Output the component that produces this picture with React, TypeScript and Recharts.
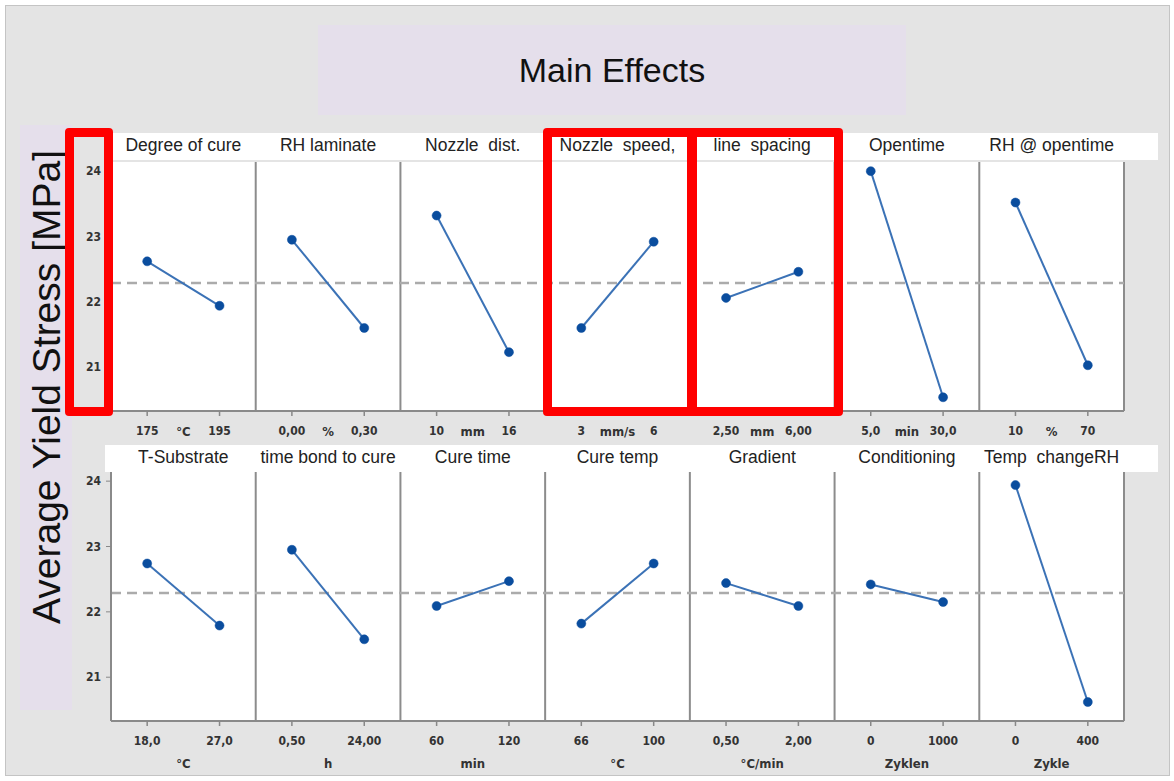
import React from "react";
import { LineChart, Line, XAxis, YAxis, ReferenceLine } from "recharts";

// top row factors
const topFactors = ["Degree of cure", "RH laminate", "Nozzle  dist.", "Nozzle  speed,", "line  spacing", "Opentime", "RH @ opentime"];
const topUnits = ["°C", "%", "mm", "mm/s", "mm", "min", "%"];
const topLowLabels = ["175", "0,00", "10", "3", "2,50", "5,0", "10"];
const topHighLabels = ["195", "0,30", "16", "6", "6,00", "30,0", "70"];
const topLowMeans = [22.62, 22.95, 23.32, 21.6, 22.06, 24.0, 23.52];
const topHighMeans = [21.94, 21.6, 21.23, 22.92, 22.46, 20.54, 21.03];

// bottom row factors
const bottomFactors = ["T-Substrate", "time bond to cure", "Cure time", "Cure temp", "Gradient", "Conditioning", "Temp  changeRH"];
const bottomUnits = ["°C", "h", "min", "°C", "°C/min", "Zyklen", "Zykle"];
const bottomLowLabels = ["18,0", "0,50", "60", "66", "0,50", "0", "0"];
const bottomHighLabels = ["27,0", "24,00", "120", "100", "2,00", "1000", "400"];
const bottomLowMeans = [22.74, 22.95, 22.09, 21.82, 22.44, 22.42, 23.94];
const bottomHighMeans = [21.79, 21.58, 22.47, 22.74, 22.09, 22.15, 20.62];

const grandMean = 22.29;
const yTicks = [21, 22, 23, 24];

const PLOT_LEFT = 111;
const PLOT_W = 1013;
const PLOT_H = 249;
const YAXIS_W = 40;
const PANEL_W = PLOT_W / 7;

const tickFont = {
  fontFamily: "'DejaVu Sans Condensed', 'DejaVu Sans', sans-serif",
  fontSize: 12,
  fontWeight: 700,
  fill: "#333",
};

const xTicks = topFactors.flatMap((_, i) => [i + 0.25, i + 0.5, i + 0.75]);

function makeTick(lows: string[], highs: string[], units: string[], unitBelow: boolean) {
  return (props: any) => {
    const { x, y, payload } = props;
    const v = payload.value as number;
    const i = Math.floor(v);
    const part = Math.round((v - i) * 4);
    if (part === 2) {
      return (
        <text x={x} y={y + (unitBelow ? 47 : 25)} textAnchor="middle" style={{ ...tickFont, fontSize: 13 }}>
          {units[i]}
        </text>
      );
    }
    const label = part === 1 ? lows[i] : highs[i];
    return (
      <g>
        <line x1={x} x2={x} y1={y} y2={y + 5} stroke="#888" strokeWidth={1.5} />
        <text x={x} y={y + 24} textAnchor="middle" style={tickFont}>
          {label}
        </text>
      </g>
    );
  };
}

function RowChart({ top, lows, highs, lowLabels, highLabels, units, unitBelow }: any) {
  const axisH = unitBelow ? 52 : 40;
  return (
    <div style={{ position: "absolute", left: PLOT_LEFT - YAXIS_W, top }}>
      <LineChart width={YAXIS_W + PLOT_W + 2} height={PLOT_H + axisH} margin={{ top: 0, right: 2, left: 0, bottom: 0 }}>
        <XAxis
          dataKey="x"
          type="number"
          domain={[0, 7]}
          ticks={xTicks}
          interval={0}
          tickSize={0}
          tickMargin={0}
          tickLine={false}
          height={axisH}
          axisLine={{ stroke: "#8a8a8a", strokeWidth: 2 }}
          tick={makeTick(lowLabels, highLabels, units, unitBelow)}
        />
        <YAxis
          type="number"
          domain={[20.33, 24.14]}
          ticks={yTicks}
          width={YAXIS_W}
          tickSize={5}
          tickMargin={5}
          tickLine={{ stroke: "#888" }}
          axisLine={{ stroke: "#8a8a8a", strokeWidth: 2 }}
          tick={tickFont}
        />
        {[1, 2, 3, 4, 5, 6, 7].map((s) => (
          <ReferenceLine key={s} x={s} stroke="#8c8c8c" strokeWidth={2} />
        ))}
        <ReferenceLine y={grandMean} stroke="#ababab" strokeWidth={2.5} strokeDasharray="10 6" />
        {lows.map((lo: number, i: number) => (
          <Line
            key={i}
            data={[
              { x: i + 0.25, y: lo },
              { x: i + 0.75, y: highs[i] },
            ]}
            dataKey="y"
            type="linear"
            stroke="#3b72b6"
            strokeWidth={2}
            dot={{ r: 4.5, fill: "#0a4d9e", stroke: "#0a4d9e", strokeWidth: 0.5 }}
            activeDot={false}
            isAnimationActive={false}
          />
        ))}
      </LineChart>
    </div>
  );
}

function Titles({ top, names }: { top: number; names: string[] }) {
  return (
    <>
      <div style={{ position: "absolute", left: 105, top, width: 1053, height: 27, background: "#fff" }} />
      {names.map((n, i) => (
        <div
          key={i}
          style={{
            position: "absolute",
            left: PLOT_LEFT + i * PANEL_W,
            width: PANEL_W,
            top: top + 2,
            textAlign: "center",
            fontFamily: "'Liberation Sans', Arial, sans-serif",
            fontSize: 17.5,
            color: "#222",
            whiteSpace: "pre",
          }}
        >
          {n}
        </div>
      ))}
    </>
  );
}

const redBox = (left: number, width: number) => (
  <div
    style={{
      position: "absolute",
      left,
      top: 128,
      width,
      height: 288,
      border: "9px solid #ff0000",
      borderRadius: 4,
      boxSizing: "border-box",
    }}
  />
);

export default function App() {
  return (
    <div style={{ position: "absolute", left: 0, top: 0, width: 1174, height: 781, background: "#fff" }}>
      <div
        style={{
          position: "absolute",
          left: 5,
          top: 5,
          width: 1165,
          height: 771,
          background: "#e4e4e4",
          border: "1px solid #c4c4c4",
          boxSizing: "border-box",
        }}
      />
      <div
        style={{
          position: "absolute",
          left: 318,
          top: 25,
          width: 588,
          height: 90,
          background: "#e5dfeb",
          display: "flex",
          alignItems: "center",
          justifyContent: "center",
          fontFamily: "'Liberation Sans', Arial, sans-serif",
          fontSize: 34,
          color: "#111",
        }}
      >
        Main Effects
      </div>
      <div style={{ position: "absolute", left: 20, top: 125, width: 52, height: 585, background: "#e5dfeb" }} />
      <div
        style={{
          position: "absolute",
          left: 47,
          top: 387,
          transform: "translate(-50%, -50%) rotate(-90deg)",
          whiteSpace: "nowrap",
          fontFamily: "'Liberation Sans', Arial, sans-serif",
          fontSize: 39,
          color: "#111",
        }}
      >
        Average Yield Stress [MPa]
      </div>

      <Titles top={133} names={topFactors} />
      <Titles top={445} names={bottomFactors} />
      <div style={{ position: "absolute", left: PLOT_LEFT, top: 162, width: PLOT_W, height: PLOT_H, background: "#fff" }} />
      <div style={{ position: "absolute", left: PLOT_LEFT, top: 472, width: PLOT_W, height: PLOT_H, background: "#fff" }} />

      <RowChart
        top={162}
        lows={topLowMeans}
        highs={topHighMeans}
        lowLabels={topLowLabels}
        highLabels={topHighLabels}
        units={topUnits}
        unitBelow={false}
      />
      <RowChart
        top={472}
        lows={bottomLowMeans}
        highs={bottomHighMeans}
        lowLabels={bottomLowLabels}
        highLabels={bottomHighLabels}
        units={bottomUnits}
        unitBelow={true}
      />

      {redBox(65, 48)}
      {redBox(543, 154)}
      {redBox(687, 156)}
    </div>
  );
}
